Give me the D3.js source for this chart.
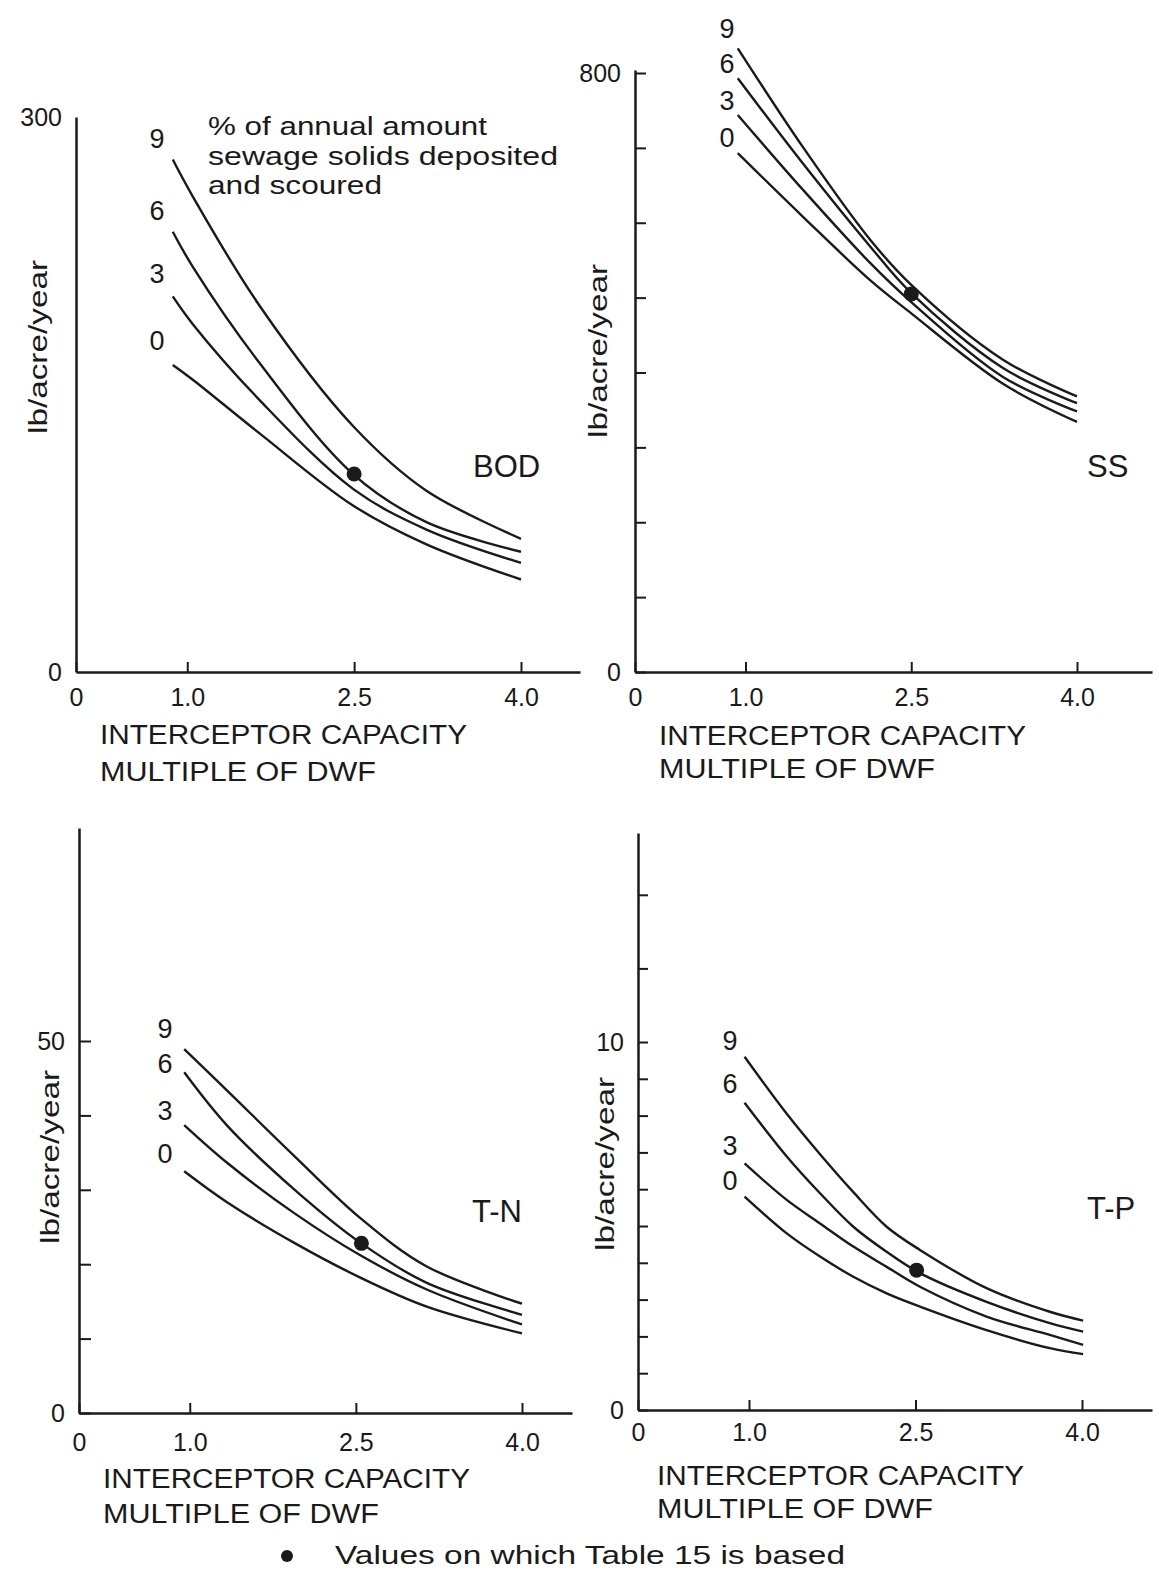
<!DOCTYPE html>
<html>
<head>
<meta charset="utf-8">
<script src="https://cdn.jsdelivr.net/npm/d3@7"></script>
<style>
  body { margin: 0; background: #fff; }
  text { font-family: "Liberation Sans", Arial, Helvetica, sans-serif; fill: #1a1a1a; }
</style>
</head>
<body>
<div id="chart"></div>
<script>
// curve labels: % of annual amount of sewage solids deposited and scoured
const pctLabels = ['9', '6', '3', '0'];
const xTickValues = [0, 1.0, 2.5, 4.0];

// BOD
const bodX = [0.87, 1.05, 1.65, 2.49, 3.15, 4.0];
const bod9 = [277, 257, 198, 133, 98, 72];
const bod6 = [238, 219, 167, 107, 81, 65];
const bod3 = [203, 188, 147, 99, 77, 59];
const bod0 = [166, 158, 129, 90, 69, 50];
const bodYTicks = [0, 300];
const bodYLabels = [0, 300];

// SS
const ssX = [0.93, 1.52, 2.13, 2.5, 3.33, 4.0];
const ss9 = [833, 701, 577, 517, 417, 368];
const ss6 = [793, 679, 568, 506, 406, 359];
const ss3 = [744, 644, 546, 494, 394, 348];
const ss0 = [693, 608, 523, 479, 385, 334];
const ssYTicks = [0, 100, 200, 300, 400, 500, 600, 700, 800];
const ssYLabels = [0, 800];

// T-N
const tnX = [0.95, 1.34, 1.94, 2.54, 3.14, 4.0];
const tn9 = [48.9, 43.3, 34.6, 26.2, 19.7, 14.7];
const tn6 = [45.8, 38.6, 30.1, 22.9, 17.5, 13.2];
const tn3 = [38.7, 33.6, 26.9, 21.2, 16.6, 11.9];
const tn0 = [32.5, 28.3, 22.9, 18.2, 14.3, 10.7];
const tnYTicks = [0, 10, 20, 30, 40, 50];
const tnYLabels = [0, 50];

// T-P
const tpX = [0.96, 1.34, 1.64, 1.94, 2.24, 2.54, 3.14, 3.71, 4.01];
const tp9 = [9.6, 8.05, 6.95, 5.92, 4.98, 4.35, 3.31, 2.67, 2.43];
const tp6 = [8.35, 6.89, 5.89, 4.98, 4.30, 3.72, 2.94, 2.36, 2.13];
const tp3 = [6.70, 5.71, 5.07, 4.44, 3.89, 3.35, 2.54, 2.04, 1.77];
const tp0 = [5.80, 4.80, 4.17, 3.62, 3.17, 2.81, 2.17, 1.68, 1.52];
const tpYTicks = [0, 1, 2, 3, 4, 5, 6, 7, 8, 9, 10, 12, 14];
const tpYLabels = [0, 10];

// values on which Table 15 is based
const dotX = [2.5, 2.5, 2.55, 2.51];
const dotY = [107, 505, 22.8, 3.80];

const panelNames = ['BOD', 'SS', 'T-N', 'T-P'];
const xTitle = ['INTERCEPTOR CAPACITY', 'MULTIPLE OF DWF'];
const yTitle = 'lb/acre/year';
const noteLines = ['% of annual amount', 'sewage solids deposited', 'and scoured'];
const legendText = 'Values on which Table 15 is based';

const width = 1159;
const height = 1579;
const ink = '#1a1a1a';

const svg = d3.select('#chart').append('svg')
  .attr('width', width)
  .attr('height', height);

svg.append('rect').attr('width', width).attr('height', height).attr('fill', '#fff');

// layout of the four panels (pixel positions)
const layouts = [
  { x0: 76, x4: 521, xEnd: 580, yBase: 672, yRef: 117, yTop: 117, tick: 0, pad: 16,
    tx: 100, ty: [744, 781], yx: 38, yy: 347, nx: 473, ny: 477, lx: 157, ly: [138, 210, 273, 340] },
  { x0: 635, x4: 1077, xEnd: 1152, yBase: 672, yRef: 73, yTop: 70, tick: 11, pad: 16,
    tx: 659, ty: [745, 778], yx: 598, yy: 351, nx: 1087, ny: 477, lx: 727, ly: [28, 63, 100, 137] },
  { x0: 79, x4: 522, xEnd: 572, yBase: 1413, yRef: 1041, yTop: 828, tick: 12, pad: 20,
    tx: 103, ty: [1488, 1523], yx: 50, yy: 1157, nx: 472, ny: 1222, lx: 165, ly: [1028, 1063, 1110, 1153] },
  { x0: 638, x4: 1082, xEnd: 1152, yBase: 1410, yRef: 1042, yTop: 833, tick: 10, pad: 13,
    tx: 657, ty: [1485, 1518], yx: 605, yy: 1164, nx: 1087, ny: 1219, lx: 730, ly: [1040, 1083, 1145, 1180] }
];

const panels = [
  { xs: bodX, series: [bod9, bod6, bod3, bod0], yTicks: bodYTicks, yLabels: bodYLabels },
  { xs: ssX, series: [ss9, ss6, ss3, ss0], yTicks: ssYTicks, yLabels: ssYLabels },
  { xs: tnX, series: [tn9, tn6, tn3, tn0], yTicks: tnYTicks, yLabels: tnYLabels },
  { xs: tpX, series: [tp9, tp6, tp3, tp0], yTicks: tpYTicks, yLabels: tpYLabels }
];

panels.forEach(function(p, i) {
  const L = layouts[i];
  const refVal = p.yLabels[p.yLabels.length - 1];

  const x = d3.scaleLinear().domain([0, 4]).range([L.x0, L.x4]);
  const y = d3.scaleLinear().domain([0, refVal]).range([L.yBase, L.yRef]);

  // axis scales reach to the drawn ends of the axis lines
  const xAxisScale = x.copy().domain([0, x.invert(L.xEnd)]).range([L.x0, L.xEnd]);
  const yAxisScale = y.copy().domain([0, y.invert(L.yTop)]).range([L.yBase, L.yTop]);

  const g = svg.append('g');

  //x axis, ticks pointing up
  const xAxis = g.append('g')
    .attr('transform', 'translate(0,' + L.yBase + ')')
    .call(d3.axisBottom(xAxisScale)
      .tickValues(xTickValues)
      .tickSizeInner(-10)
      .tickSizeOuter(0)
      .tickPadding(L.pad)
      .tickFormat(function(d) { return d === 0 ? '0' : d3.format('.1f')(d); }));
  xAxis.select('.domain').attr('stroke', ink).attr('stroke-width', 2.5);
  xAxis.selectAll('.tick line').attr('stroke', ink).attr('stroke-width', 2);
  xAxis.selectAll('.tick text').attr('fill', ink).style('font-size', '25px')
    .style('font-family', '"Liberation Sans", Arial, sans-serif');

  //y axis, ticks pointing right
  const yAxis = g.append('g')
    .attr('transform', 'translate(' + L.x0 + ',0)')
    .call(d3.axisLeft(yAxisScale)
      .tickValues(p.yTicks)
      .tickSizeInner(-L.tick)
      .tickSizeOuter(0)
      .tickPadding(14)
      .tickFormat(function(d) { return p.yLabels.indexOf(d) >= 0 ? d : ''; }));
  yAxis.select('.domain').attr('stroke', ink).attr('stroke-width', 2.5);
  yAxis.selectAll('.tick line').attr('stroke', ink).attr('stroke-width', 2);
  yAxis.selectAll('.tick text').attr('fill', ink).style('font-size', '25px')
    .style('font-family', '"Liberation Sans", Arial, sans-serif');

  //the four curves
  const line = d3.line()
    .x(function(d) { return x(d[0]); })
    .y(function(d) { return y(d[1]); })
    .curve(d3.curveCatmullRom.alpha(0.5));

  p.series.forEach(function(vals, k) {
    g.append('path')
      .datum(p.xs.map(function(v, j) { return [v, vals[j]]; }))
      .attr('d', line)
      .attr('fill', 'none')
      .attr('stroke', ink)
      .attr('stroke-width', 2.4);

    g.append('text')
      .attr('x', L.lx)
      .attr('y', L.ly[k])
      .attr('dy', '0.36em')
      .style('font-size', '27px')
      .style('text-anchor', 'middle')
      .text(pctLabels[k]);
  });

  //dot
  g.append('circle')
    .attr('cx', x(dotX[i]))
    .attr('cy', y(dotY[i]))
    .attr('r', 7.5)
    .attr('fill', ink);

  //panel name
  g.append('text')
    .attr('x', L.nx)
    .attr('y', L.ny)
    .style('font-size', '31px')
    .text(panelNames[i]);

  //x title
  g.append('text')
    .attr('x', L.tx).attr('y', L.ty[0])
    .attr('textLength', 367).attr('lengthAdjust', 'spacingAndGlyphs')
    .style('font-size', '27px')
    .text(xTitle[0]);
  g.append('text')
    .attr('x', L.tx).attr('y', L.ty[1])
    .attr('textLength', 276).attr('lengthAdjust', 'spacingAndGlyphs')
    .style('font-size', '27px')
    .text(xTitle[1]);

  //y title
  g.append('text')
    .attr('transform', 'translate(' + L.yx + ',' + L.yy + ') rotate(-90)')
    .attr('dy', '0.35em')
    .attr('textLength', 174).attr('lengthAdjust', 'spacingAndGlyphs')
    .style('font-size', '25px')
    .style('text-anchor', 'middle')
    .text(yTitle);
});

//note in the BOD panel
const noteY = [135, 165, 194];
const noteLen = [279, 350, 174];
noteLines.forEach(function(t, k) {
  svg.append('text')
    .attr('x', 208)
    .attr('y', noteY[k])
    .attr('textLength', noteLen[k]).attr('lengthAdjust', 'spacingAndGlyphs')
    .style('font-size', '26px')
    .text(t);
});

//legend at the bottom
svg.append('circle').attr('cx', 287).attr('cy', 1556).attr('r', 6).attr('fill', ink);
svg.append('text')
  .attr('x', 335).attr('y', 1564)
  .attr('textLength', 510).attr('lengthAdjust', 'spacingAndGlyphs')
  .style('font-size', '26px')
  .text(legendText);
</script>
</body>
</html>
